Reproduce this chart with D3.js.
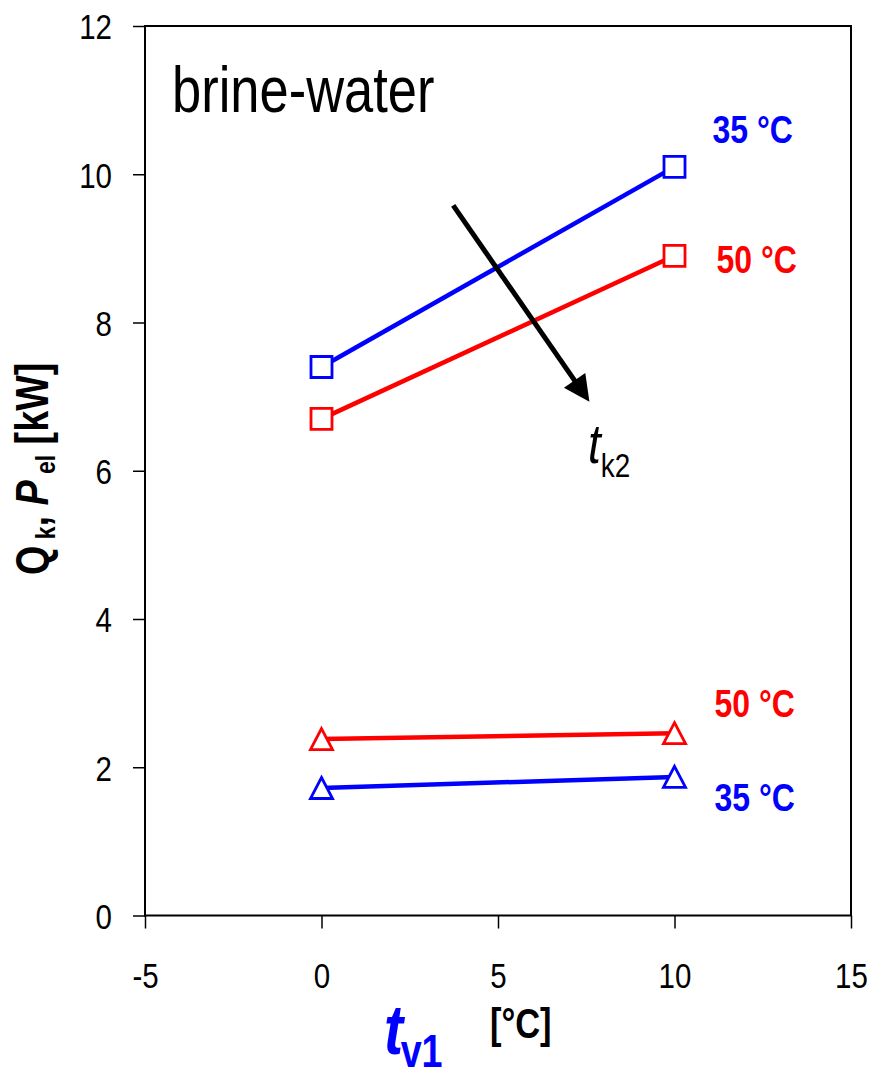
<!DOCTYPE html>
<html>
<head>
<meta charset="utf-8">
<script src="https://cdn.jsdelivr.net/npm/d3@7"></script>
<style>
  html, body { margin: 0; padding: 0; background: #fff; }
  svg { display: block; }
  text { font-family: "Liberation Sans", Arial, sans-serif; }
</style>
</head>
<body>
<svg id="chart" width="871" height="1075"></svg>
<script>
// Evaporator inlet temperature t_V1 [°C]
const tV1 = [0, 10];
// Heating capacity Q_k [kW] for two condenser outlet temperatures
const qk35 = [7.4, 10.1];
const qk50 = [6.7, 8.9];
// Electrical power P_el [kW]
const pel50 = [2.38, 2.46];
const pel35 = [1.72, 1.87];
// Axis ticks
const xTicks = [-5, 0, 5, 10, 15];
const yTicks = [0, 2, 4, 6, 8, 10, 12];
// Direction of rising t_k2: arrow from [t, Q] to [t, Q]
const arrowFrom = [3.73, 9.58];
const arrowTo = [7.59, 6.93];
const seriesLabels = ["35 °C", "50 °C"];

(function draw() {
const BLUE = "#0000ff", RED = "#ff0000";
const NARROW = 0.82;

const svg = d3.select("#chart");
const mLeft = 145, mRight = 851, mTop = 26, mBottom = 915.5;

const x = d3.scaleLinear().domain([-5, 15]).range([mLeft, mRight]);
const y = d3.scaleLinear().domain([0, 12]).range([mBottom, mTop]);

// condensed text helper (narrow sans look)
function ntext(parent, px, py, opts) {
  const g = parent.append("g")
    .attr("transform", `translate(${px},${py}) ${opts.rotate ? "rotate(-90)" : ""} scale(${NARROW},1)`);
  const t = g.append("text")
    .attr("x", 0).attr("y", 0)
    .attr("font-size", opts.size)
    .attr("font-weight", opts.weight || "normal")
    .attr("font-style", opts.style || "normal")
    .attr("fill", opts.fill || "#000")
    .attr("text-anchor", opts.anchor || "start");
  if (opts.text !== undefined) t.text(opts.text);
  return t;
}

const plainNum = d => String(d);

// axes
const yAxis = d3.axisLeft(y).tickValues(yTicks).tickFormat(plainNum).tickSize(12).tickSizeOuter(0);
const gy = svg.append("g").attr("transform", `translate(${mLeft},0)`).call(yAxis);
gy.select(".domain").remove();
gy.selectAll(".tick line").attr("stroke", "#000").attr("stroke-width", 1.5);
gy.selectAll(".tick text")
  .attr("font-size", 36)
  .attr("font-family", "Liberation Sans, Arial, sans-serif")
  .attr("fill", "#000")
  .attr("x", -33 / NARROW)
  .attr("dy", "0.36em")
  .attr("transform", `scale(${NARROW},1)`);

const xAxis = d3.axisBottom(x).tickValues(xTicks).tickFormat(plainNum).tickSize(13).tickSizeOuter(0);
const gx = svg.append("g").attr("transform", `translate(0,${mBottom})`).call(xAxis);
gx.select(".domain").remove();
gx.selectAll(".tick line").attr("stroke", "#000").attr("stroke-width", 1.5);
gx.selectAll(".tick text")
  .attr("font-size", 36)
  .attr("font-family", "Liberation Sans, Arial, sans-serif")
  .attr("fill", "#000")
  .attr("y", 72.5)
  .attr("dy", 0)
  .attr("transform", `scale(${NARROW},1)`);

// plot frame
svg.append("rect")
  .attr("x", mLeft).attr("y", mTop)
  .attr("width", mRight - mLeft).attr("height", mBottom - mTop)
  .attr("fill", "none").attr("stroke", "#000").attr("stroke-width", 2);

// series
const line = d3.line().x(d => x(d[0])).y(d => y(d[1]));
const series = [
  { vals: qk35, color: BLUE, marker: "square" },
  { vals: qk50, color: RED, marker: "square" },
  { vals: pel50, color: RED, marker: "triangle" },
  { vals: pel35, color: BLUE, marker: "triangle" }
];
const sq = d3.symbol().type(d3.symbolSquare).size(21 * 21);
const triPath = (s) => `M0,${-s / 2}L${s / 2 * 1.05},${s / 2}L${-s / 2 * 1.05},${s / 2}Z`;

series.forEach(s => {
  const pts = tV1.map((t, i) => [t, s.vals[i]]);
  svg.append("path").datum(pts)
    .attr("d", line).attr("fill", "none")
    .attr("stroke", s.color).attr("stroke-width", 4.5);
  svg.selectAll(null).data(pts).enter().append("path")
    .attr("transform", d => `translate(${x(d[0])},${y(d[1])})`)
    .attr("d", s.marker === "square" ? sq() : triPath(21))
    .attr("fill", "#fff").attr("stroke", s.color).attr("stroke-width", 2.8)
    .attr("stroke-linejoin", "miter");
});

// end-of-line labels
const lastX = x(tV1[tV1.length - 1]);
ntext(svg, lastX + 38, y(qk35[1]) - 24, { size: 39, weight: "bold", fill: BLUE, text: seriesLabels[0] });
ntext(svg, lastX + 42, y(qk50[1]) + 17, { size: 39, weight: "bold", fill: RED, text: seriesLabels[1] });
ntext(svg, lastX + 40, y(pel50[1]) - 16, { size: 39, weight: "bold", fill: RED, text: seriesLabels[1] });
ntext(svg, lastX + 40, y(pel35[1]) + 34, { size: 39, weight: "bold", fill: BLUE, text: seriesLabels[0] });

// arrow for rising t_k2
const ax0 = x(arrowFrom[0]), ay0 = y(arrowFrom[1]);
const ax1 = x(arrowTo[0]), ay1 = y(arrowTo[1]);
const ang = Math.atan2(ay1 - ay0, ax1 - ax0);
const headLen = 26, headHalf = 13;
const bx = ax1 - headLen * Math.cos(ang), by = ay1 - headLen * Math.sin(ang);
svg.append("line")
  .attr("x1", ax0).attr("y1", ay0).attr("x2", bx + 2 * Math.cos(ang)).attr("y2", by + 2 * Math.sin(ang))
  .attr("stroke", "#000").attr("stroke-width", 5);
svg.append("path")
  .attr("d", `M${ax1},${ay1}L${bx - headHalf * Math.sin(ang)},${by + headHalf * Math.cos(ang)}L${bx + headHalf * Math.sin(ang)},${by - headHalf * Math.cos(ang)}Z`)
  .attr("fill", "#000");

// t_k2 annotation
const tk = ntext(svg, 588, 463, { size: 56 });
tk.append("tspan").attr("font-style", "italic").text("t");
tk.append("tspan").attr("font-size", 34).attr("dy", 14).text("k2");

// panel title
ntext(svg, 172, 112, { size: 64, text: "brine-water" });

// y axis title
const yt = ntext(svg, 48, 575, { size: 46, weight: "bold", rotate: true });
yt.append("tspan").text("Q");
yt.append("tspan").attr("font-size", 28).attr("dy", 7).text(" k");
yt.append("tspan").attr("dy", -7).text(", ");
yt.append("tspan").attr("font-style", "italic").text("P");
yt.append("tspan").attr("font-size", 28).attr("dy", 7).text(" el");
yt.append("tspan").attr("dy", -7).text(" [kW]");

// x axis title
const xt = ntext(svg, 384, 1054, { size: 70, weight: "bold", fill: BLUE });
xt.append("tspan").attr("font-style", "italic").text("t");
xt.append("tspan").attr("font-size", 46).attr("dy", 13).attr("dx", -3).text("v1");
ntext(svg, 490, 1038, { size: 42, weight: "bold", text: "[°C]" });
})();
</script>
</body>
</html>
